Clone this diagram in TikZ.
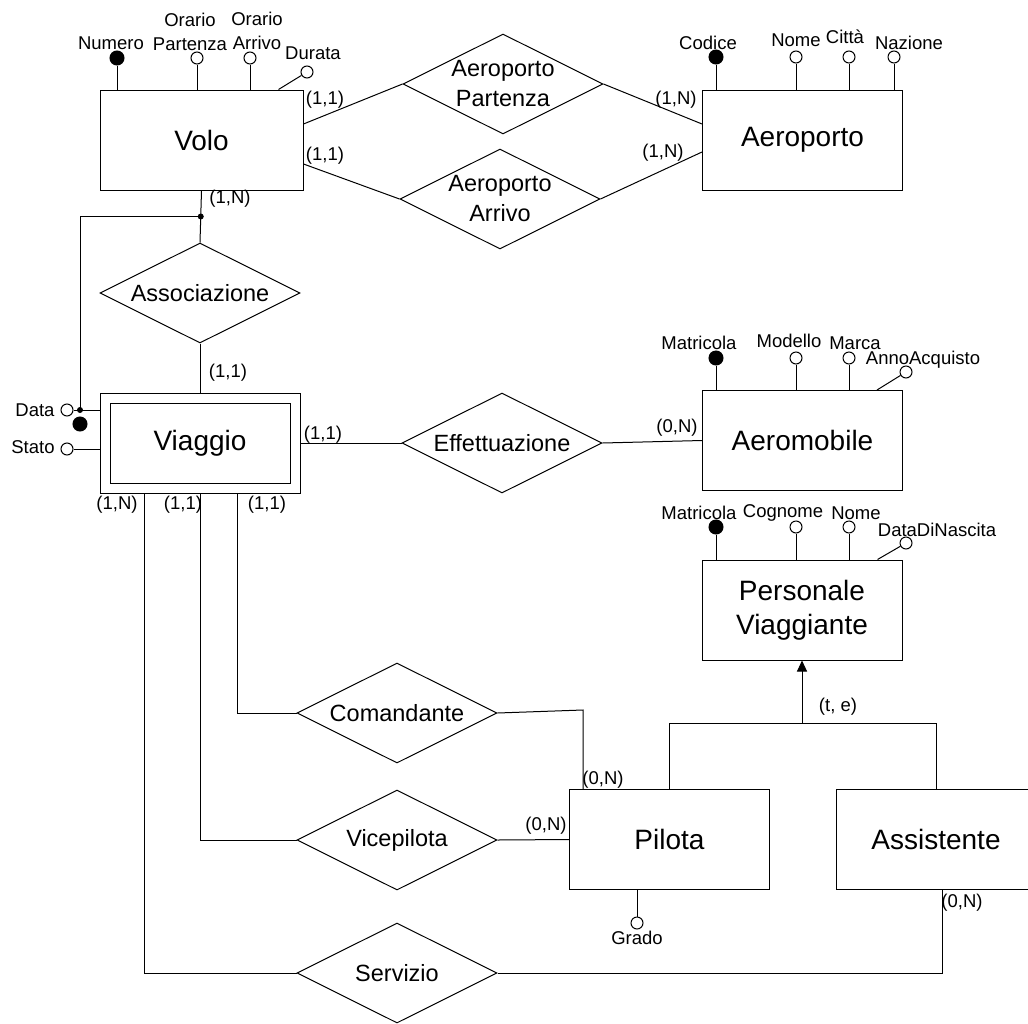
\documentclass[tikz,border=0pt]{standalone}
\usepackage{fontspec}
\setmainfont{Liberation Sans}
\usetikzlibrary{shapes.geometric,arrows.meta,positioning,calc}

\tikzset{
  entity/.style={draw,rectangle,minimum width=200pt,minimum height=100pt,inner sep=0pt,align=center,font=\fontsize{28}{34}\selectfont},
  relation/.style={draw,diamond,aspect=2,minimum width=200pt,minimum height=100pt,inner sep=0pt,align=center,font=\fontsize{23.5}{30}\selectfont},
  attr/.style={draw,circle,fill=white,minimum size=12pt,inner sep=0pt},
  keyattr/.style={draw,circle,fill=black,minimum size=14pt,inner sep=0pt},
  lbl/.style={inner sep=0pt,align=center,font=\fontsize{18.5}{24}\selectfont},
  card/.style={lbl}
}

\begin{document}
\begin{tikzpicture}[x=1pt,y=-1pt,line width=1pt]
\useasboundingbox (0,0) rectangle (1028,1023);

\node[entity,minimum width=203pt] (volo) at (201.5,140) {Volo};
\node[entity] (aeroporto) at (802.5,140) {Aeroporto};
\node[entity] (viaggio) at (200,443) {};
\node[entity,minimum width=180pt,minimum height=80pt] (viaggiotxt) at (viaggio) {Viaggio};
\node[entity] (aeromobile) at (802.5,440.5) {Aeromobile};
\node[entity] (personale) at (802,610) {Personale\\Viaggiante};
\node[entity] (pilota) at (669.5,839.5) {Pilota};
\node[entity] (assistente) at (936,839.5) {Assistente};

\node[relation] (partenza) at (503,84) {Aeroporto\\Partenza};
\node[relation] (arrivo) at (500,199) {Aeroporto\\Arrivo};
\node[relation] (associazione) at (200,293) {Associazione};
\node[relation] (effettuazione) at (502,443) {Effettuazione};
\node[relation] (comandante) at (397,713) {Comandante};
\node[relation] (vicepilota) at (397,840) {Vicepilota};
\node[relation] (servizio) at (397,973) {Servizio};

\node[keyattr] (numero) at (117,58) {};
\node[attr] (orpartenza) at (197,58) {};
\node[attr] (orarrivo) at (250,58) {};
\node[attr] (durata) at (307,72) {};
\node[keyattr] (codice) at (716,57) {};
\node[attr] (nome) at (796,57) {};
\node[attr] (citta) at (849,57) {};
\node[attr] (nazione) at (894,57) {};
\node[keyattr] (matricola) at (716,358) {};
\node[attr] (modello) at (796,358) {};
\node[attr] (marca) at (849,358) {};
\node[attr] (anno) at (906,372) {};
\node[keyattr] (matricolapv) at (716,527) {};
\node[attr] (cognome) at (796,527) {};
\node[attr] (nomepv) at (849,527) {};
\node[attr] (nascita) at (906,543) {};
\node[attr] (data) at (67,410) {};
\node[attr] (stato) at (67,449) {};
\node[attr] (grado) at (637,923) {};

\node[lbl] (tnumero) at (111,43) {Numero};
\node[lbl] (torpartenza) at (190,32) {Orario\\Partenza};
\node[lbl] (torarrivo) at (257,31) {Orario\\Arrivo};
\node[lbl] (tdurata) at (313,53) {Durata};
\node[lbl] (tcodice) at (708,43) {Codice};
\node[lbl] (tnome) at (796,40) {Nome};
\node[lbl] (tcitta) at (845,37) {Città};
\node[lbl] (tnazione) at (909,43) {Nazione};
\node[lbl] (tmatricola) at (699,343) {Matricola};
\node[lbl] (tmodello) at (789,341) {Modello};
\node[lbl] (tmarca) at (855,343) {Marca};
\node[lbl] (tanno) at (923,360) {AnnoAcquisto};
\node[lbl] (tmatricolapv) at (699,513) {Matricola};
\node[lbl] (tcognome) at (783,513) {Cognome};
\node[lbl] (tnomepv) at (856,513) {Nome};
\node[lbl] (tnascita) at (937,530) {DataDiNascita};
\node[lbl] (tdata) at (35,410) {Data};
\node[lbl] (tstato) at (33,447) {Stato};
\node[lbl] (tgrado) at (637,938) {Grado};

\foreach \a in {numero,orpartenza,orarrivo} \draw (\a) -- (\a |- volo.north);
\draw (durata) -- ([xshift=-25pt]volo.north east);
\foreach \a in {codice,nome,citta,nazione} \draw (\a) -- (\a |- aeroporto.north);
\foreach \a in {matricola,modello,marca} \draw (\a) -- (\a |- aeromobile.north);
\draw (anno) -- ([xshift=-26pt]aeromobile.north east);
\foreach \a in {matricolapv,cognome,nomepv} \draw (\a) -- (\a |- personale.north);
\draw (nascita) -- ([xshift=-25pt]personale.north east);
\draw (grado) -- (grado |- pilota.south);

\draw ([yshift=16pt]volo.east) -- (partenza.west);
\draw (partenza.east) -- ([yshift=16pt]aeroporto.west);
\draw ([yshift=-24pt]volo.east) -- (arrivo.west);
\draw (arrivo.east) -- ([yshift=-12pt]aeroporto.west);

\draw (volo.south) -- coordinate (giunto) (associazione.north);
\coordinate (datagiunto) at (80,410);
\draw (giunto) -| (datagiunto);
\fill (giunto) circle (3pt);
\fill (datagiunto) circle (3pt);
\node[keyattr] (idest) at (80,424) {};
\draw (data) -- (data -| viaggio.west);
\draw (stato) -- (stato -| viaggio.west);
\draw (associazione.south) -- (viaggio.north);

\draw (viaggio.east) -- (effettuazione.west);
\draw (effettuazione.east) -- (aeromobile.west);

\draw ([xshift=37pt]viaggio.south) |- (comandante.west);
\draw (viaggio.south) |- (vicepilota.west);
\draw ([xshift=-56pt]viaggio.south) |- (servizio.west);
\coordinate (gomito) at (583,710);
\draw (comandante.east) -- (gomito) -- (gomito |- pilota.north);
\draw (vicepilota.east) -- (pilota.west);
\draw (servizio.east) -| ([xshift=6pt]assistente.south);

\coordinate (gen) at (personale.south |- 0,723);
\draw[-{Triangle[length=11pt,width=10pt]}] (gen) -- (personale.south);
\draw (pilota.north) |- (gen) -| (assistente.north);

\node[card] (c1) at (325,100) {(1,1)};
\node[card] (c2) at (325,156) {(1,1)};
\node[card] (c3) at (676,100) {(1,N)};
\node[card] (c4) at (663,153) {(1,N)};
\node[card] (c5) at (230,199) {(1,N)};
\node[card] (c6) at (228,373) {(1,1)};
\node[card] (c7) at (323,435) {(1,1)};
\node[card] (c8) at (677,428) {(0,N)};
\node[card] (c9) at (117,505) {(1,N)};
\node[card] (c10) at (183,505) {(1,1)};
\node[card] (c11) at (267,505) {(1,1)};
\node[card] (c12) at (603,780) {(0,N)};
\node[card] (c13) at (546,826) {(0,N)};
\node[card] (c14) at (962,903) {(0,N)};
\node[card] (c15) at (838,707) {(t, e)};
\end{tikzpicture}
\end{document}
